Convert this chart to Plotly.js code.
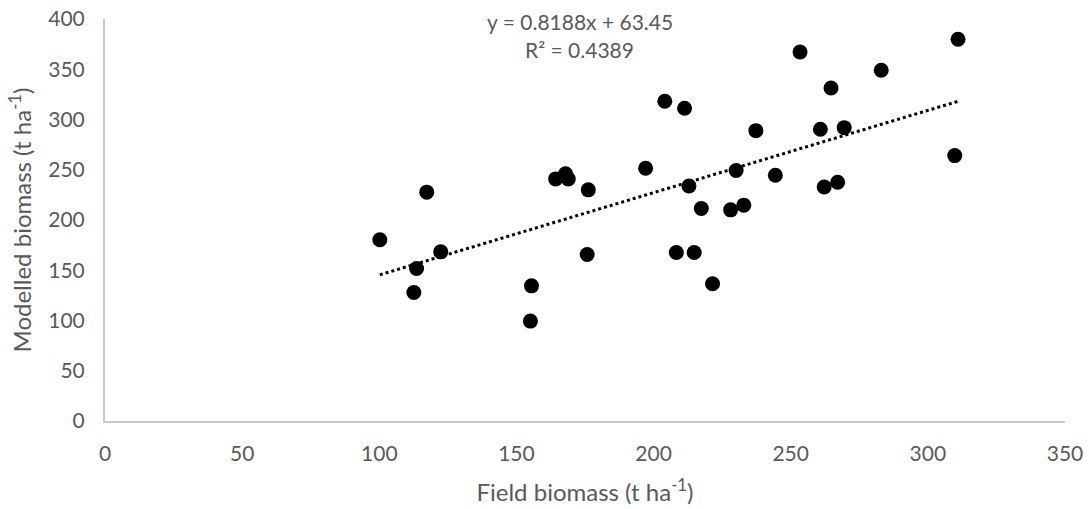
<!DOCTYPE html>
<html>
<head>
<meta charset="utf-8">
<script src="https://cdn.plot.ly/plotly-3.0.1.min.js"></script>
<style>html,body{margin:0;padding:0;background:#fff;}#chart{width:1089px;height:509px;}</style>
</head>
<body>
<div id="chart"></div>
<script>
const fieldBiomass = [100.2, 117.3, 122.4, 113.6, 112.6, 155.5, 155.1, 164.3, 167.9, 168.9, 176.2, 175.8, 197.1, 204.1, 211.3, 212.9, 208.3, 214.8, 217.4, 221.5, 228.1, 232.9, 230.1, 237.3, 244.4, 253.4, 264.7, 283.0, 311.0, 260.8, 269.5, 309.8, 262.2, 267.1];
const modelledBiomass = [180.3, 227.7, 168.3, 151.7, 127.9, 134.5, 99.4, 240.9, 245.9, 240.9, 230.0, 165.6, 251.5, 318.2, 311.2, 233.9, 167.6, 167.6, 211.4, 136.5, 210.1, 214.8, 249.2, 288.9, 244.6, 367.2, 331.4, 349.0, 379.8, 290.3, 291.9, 264.1, 232.9, 237.6];
const slope = 0.8188;
const intercept = 63.45;
const eqText = "y = 0.8188x + 63.45";
const r2Text = "R² = 0.4389";
const xTickVals = [0, 50, 100, 150, 200, 250, 300, 350];
const yTickVals = [0, 50, 100, 150, 200, 250, 300, 350, 400];

const xMin = Math.min(...fieldBiomass), xMax = Math.max(...fieldBiomass);
const trendX = [xMin, xMax];
const trendY = trendX.map(v => slope * v + intercept);

const font = "Lato, 'Open Sans', sans-serif";
const grey = "#595959";

const data = [
  {x: trendX, y: trendY, mode: "lines", type: "scatter",
   line: {color: "#000", width: 3, dash: "dot"}, hoverinfo: "skip", showlegend: false},
  {x: fieldBiomass, y: modelledBiomass, mode: "markers", type: "scatter",
   marker: {color: "#000", size: 15}, showlegend: false}
];

const layout = {
  width: 1089, height: 509,
  margin: {l: 105.3, r: 24, t: 19, b: 87.7},
  paper_bgcolor: "#fff", plot_bgcolor: "#fff",
  font: {family: font, color: grey, size: 20},
  xaxis: {range: [0, 350], tickvals: xTickVals, showgrid: false, zeroline: false,
    showline: true, linecolor: "#c9c9c9", linewidth: 2, ticks: "", ticklabelstandoff: 13,
    tickfont: {size: 21, color: grey, family: font},
    title: {text: "Field biomass (t ha<sup>-1</sup>)", font: {size: 24, color: grey, family: font}, standoff: 20}},
  yaxis: {range: [0, 400], tickvals: yTickVals, showgrid: false, zeroline: false,
    showline: true, linecolor: "#c9c9c9", linewidth: 2, ticks: "", ticklabelstandoff: 14,
    tickfont: {size: 21, color: grey, family: font},
    title: {text: "Modelled biomass (t ha<sup>-1</sup>)", font: {size: 24, color: grey, family: font}, standoff: 10}},
  annotations: [
    {xref: "paper", yref: "paper", x: 0.4946, y: (421.3 - 22) / 402.3, text: eqText, showarrow: false,
     xanchor: "center", yanchor: "middle", font: {size: 21, color: grey, family: font}},
    {xref: "paper", yref: "paper", x: 0.4946, y: (421.3 - 50) / 402.3, text: r2Text, showarrow: false,
     xanchor: "center", yanchor: "middle", font: {size: 21, color: grey, family: font}}
  ]
};

Plotly.newPlot("chart", data, layout, {displayModeBar: false, staticPlot: true});
</script>
</body>
</html>
